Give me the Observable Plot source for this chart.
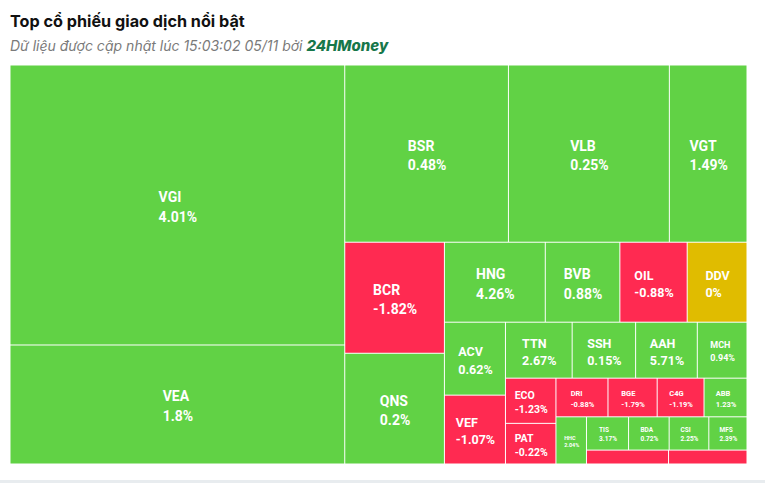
<!DOCTYPE html>
<html><head><meta charset="utf-8">
<script src="https://cdn.jsdelivr.net/npm/d3@7"></script>
<script src="https://cdn.jsdelivr.net/npm/@observablehq/plot@0.6"></script>
<style>
html,body{margin:0;padding:0;background:#fff;width:765px;height:483px;overflow:hidden;font-family:Inter,"Noto Sans",sans-serif;}
#title{position:absolute;left:10px;top:11px;font-weight:700;font-size:16.2px;color:#111;white-space:nowrap;}
#sub{position:absolute;left:10px;top:36px;font-style:italic;font-size:14px;color:#7a7a7a;white-space:nowrap;}
#sub b{color:#17774a;font-weight:800;font-size:15px;}
#chart{position:absolute;left:0;top:65px;}
#foot{position:absolute;left:0;top:480px;width:765px;height:3px;background:#e8ecef;}
</style></head>
<body>
<div id="title">Top cổ phiếu giao dịch nổi bật</div>
<div id="sub">Dữ liệu được cập nhật lúc 15:03:02 05/11 bởi <b>24HMoney</b></div>
<div id="chart"></div>
<div id="foot"></div>
<script>
// Tickers, traded value (weight of each cell), % change, and squarified row group
const tickers = ["VGI","VEA","BSR","VLB","VGT","BCR","QNS","HNG","BVB","OIL","DDV","ACV","VEF","TTN","SSH","AAH","MCH","ECO","PAT","DRI","BGE","C4G","ABB","HHC","TIS","BDA","CSI","MFS","",""];
const values  = [936.6,398.1,289.9,285.0,137.5,110.6,110.3,80.6,59.6,53.8,47.8,44.5,42.0,37.3,35.5,34.5,27.8,22.8,20.5,20.1,19.0,18.1,16.6,14.4,14.0,13.5,13.2,12.7,11.4,10.9];
const changes = [4.01,1.8,0.48,0.25,1.49,-1.82,0.2,4.26,0.88,-0.88,0,0.62,-1.07,2.67,0.15,5.71,0.94,-1.23,-0.22,-0.88,-1.79,-1.19,1.23,2.04,3.17,0.72,2.25,2.39,-0.5,-0.5];
const rowGroup = [0,0,1,1,1,2,2,3,3,3,3,4,4,5,5,5,5,6,6,7,7,7,7,8,9,9,9,9,10,10];

const W = 737, H = 399;
const leaves = tickers.map((t,i)=>({ticker:t, value:values[i], change:changes[i], group:rowGroup[i]}));
const nG = d3.max(rowGroup) + 1;
function build(k){
  const row = {children: leaves.filter(d=>d.group===k)};
  return k === nG-1 ? row : {children:[row, build(k+1)]};
}
const root = d3.hierarchy(build(0)).sum(d => d.children ? 0 : d.value);
d3.treemap().tile(d3.treemapSliceDice).size([W,H])(root);

const canvas = document.createElement("canvas");
const ctx = canvas.getContext("2d");
function fontSize(w,h){
  const m = Math.min(w,h);
  if (m>=70) return 14; if (m>=54) return 12.5; if (m>=48) return 9;
  if (m>=40) return 10.5; if (m>=36) return 7.5; if (m>=32) return 6.5;
  if (m>=25) return 5.5; return 0;
}
const cells = root.leaves().map(n=>{
  const d = n.data, w = n.x1-n.x0, h = n.y1-n.y0;
  const fs = fontSize(w,h);
  const label = d.ticker + "\n" + d.change + "%";
  ctx.font = `700 ${fs}px Roboto`;
  const tw = Math.max(...label.split("\n").map(s=>ctx.measureText(s).width));
  return {x0:n.x0,x1:n.x1,y0:n.y0,y1:n.y1, status: d.change>0?"up":d.change<0?"down":"flat",
          label, fs, lx:(n.x0+n.x1)/2 - tw/2, cy:(n.y0+n.y1)/2, show: fs>0 && d.ticker!==""};
});

const chart = Plot.plot({
  width:765, height:400,
  style:{fontFamily:"Roboto", background:"white"},
  x:{domain:[0,W], range:[10,10+W], axis:null},
  y:{domain:[0,H], range:[0,H], axis:null},
  color:{domain:["up","down","flat"], range:["#61d245","#ff2a51","#e0bc00"]},
  marks:[
    Plot.rect(cells,{x1:"x0",x2:"x1",y1:"y0",y2:"y1",fill:"status",inset:0.5}),
    Plot.text(cells.filter(d=>d.show),{x:"lx",y:"cy",text:"label",fill:"white",fontWeight:700,
      fontSize:"fs",textAnchor:"start",lineAnchor:"middle",lineHeight:1.4})
  ]
});
document.getElementById("chart").appendChild(chart);
</script>
</body></html>
